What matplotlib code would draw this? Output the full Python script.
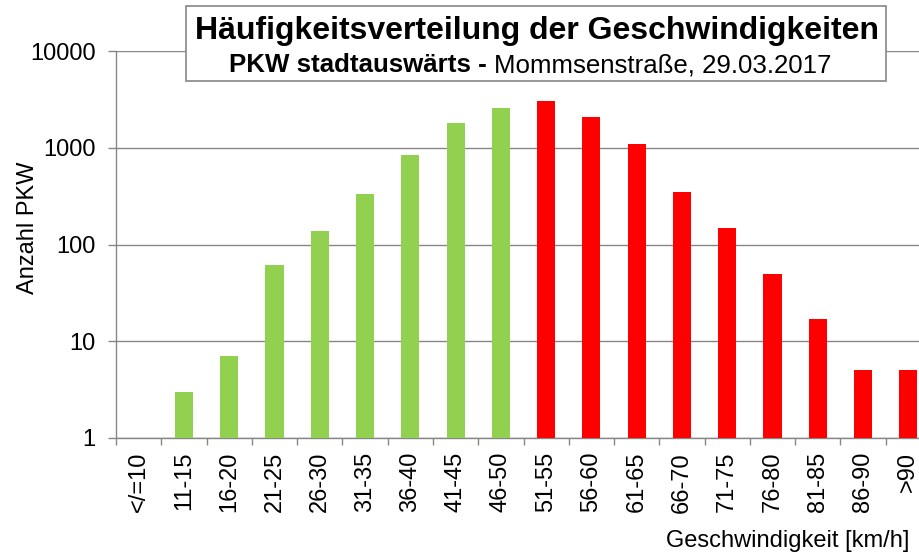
import matplotlib
matplotlib.use("Agg")
import matplotlib.pyplot as plt
from matplotlib.patches import Rectangle
import numpy as np

plt.rcParams['font.family'] = ['Liberation Sans', 'DejaVu Sans']

categories = ["</=10", "11-15", "16-20", "21-25", "26-30", "31-35", "36-40", "41-45", "46-50",
              "51-55", "56-60", "61-65", "66-70", "71-75", "76-80", "81-85", "86-90", ">90"]
counts = [0, 3, 7, 61, 137, 335, 841, 1815, 2576,
          3042, 2080, 1093, 349, 148, 49.5, 17, 5, 5]
green_count = 9  # first 9 classes (up to 50 km/h) green, rest red
yticks = [1, 10, 100, 1000, 10000]

W, H = 920, 557
fig = plt.figure(figsize=(W / 100, H / 100), dpi=100)
ax = fig.add_axes([116 / W, 1 - 438 / H, (931 - 116) / W, (438 - 51) / H])

x = np.arange(len(categories))
colors = ["#92D050" if i < green_count else "#FF0000" for i in range(len(categories))]
vals = np.array(counts, dtype=float)
mask = vals > 0
ax.bar(x[mask], vals[mask], width=0.4, color=np.array(colors)[mask], zorder=3)

ax.set_yscale('log')
ax.set_ylim(1, 10000)
ax.set_xlim(-0.5, len(categories) - 0.5)
ax.set_yticks(yticks)
ax.set_yticklabels([str(v) for v in yticks])
ax.yaxis.set_minor_locator(matplotlib.ticker.NullLocator())
ax.grid(axis='y', color='#868686', linewidth=1.0, zorder=0)

ax.set_xticks(np.arange(len(categories) + 1) - 0.5)
ax.set_xticklabels([])
ax.set_xticks(x, minor=True)
ax.set_xticklabels(categories, minor=True, rotation=90, fontsize=17)
ax.tick_params(axis='x', which='major', length=5, color='#868686', width=1)
ax.tick_params(axis='x', which='minor', length=0, pad=10)
ax.tick_params(axis='y', which='major', length=6, color='#868686', width=1, labelsize=17, pad=8.5)

for s in ['top', 'right']:
    ax.spines[s].set_visible(False)
for s in ['left', 'bottom']:
    ax.spines[s].set_color('#868686')
    ax.spines[s].set_linewidth(1.0)

fig.text(28 / W, 1 - 228 / H, "Anzahl PKW", rotation=90, ha='center', va='center', fontsize=17)
fig.text(909 / W, 1 - 541 / H, "Geschwindigkeit [km/h]", ha='right', va='center', fontsize=17)

# title box
fig.patches.append(Rectangle((186 / W, 1 - 81 / H), (886 - 186) / W, (81 - 6) / H,
                             transform=fig.transFigure, facecolor='white',
                             edgecolor='#868686', linewidth=1.2, zorder=5))
fig.text(537 / W, 1 - 38.5 / H, "Häufigkeitsverteilung der Geschwindigkeiten",
         ha='center', va='baseline', fontsize=23, fontweight='bold', zorder=6)
fig.text(494 / W, 1 - 72.5 / H, "PKW stadtauswärts - ", ha='right', va='baseline',
         fontsize=18.6, fontweight='bold', zorder=6)
fig.text(494 / W, 1 - 72.5 / H, "Mommsenstraße, 29.03.2017", ha='left', va='baseline',
         fontsize=18.6, zorder=6)

fig.savefig("out.png", dpi=100)
